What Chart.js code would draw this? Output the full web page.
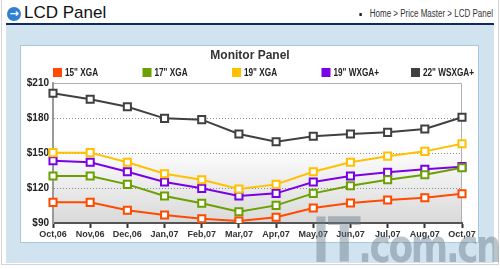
<!DOCTYPE html>
<html>
<head>
<meta charset="utf-8">
<script src="https://cdn.jsdelivr.net/npm/chart.js@4.4.0/dist/chart.umd.min.js"></script>
<style>
  body { margin: 0; background: #fff; font-family: "Liberation Sans", Arial, sans-serif; }
  #page { position: relative; width: 500px; height: 269px; overflow: hidden; }
  #frame { position: absolute; left: 1px; top: 0; width: 496px; height: 264px; border: 1px solid #d4d4d4; border-top: none; }
  #icon { position: absolute; left: 7px; top: 7px; width: 14px; height: 14px; border-radius: 50%; background: #2f7fd3; color: #fff; font: bold 11px/14px "DejaVu Sans", sans-serif; text-align: center; }
  #title { position: absolute; left: 24px; top: 3px; font-size: 17px; color: #111; }
  #crumb { position: absolute; right: 7px; top: 8px; font: 10px "Liberation Sans", sans-serif; color: #333; transform: scaleX(0.8); transform-origin: right center; white-space: nowrap; }
  #crumb b { display: inline-block; width: 3px; height: 3px; background: #222; margin-right: 10px; vertical-align: middle; }
  #rule { position: absolute; left: 6px; top: 23px; width: 488px; height: 2px; background: #0f2b5f; }
  #panel { position: absolute; left: 6px; top: 25px; width: 488px; height: 238px; background: #d1e3ee; }
  #box { position: absolute; left: 20px; top: 45px; width: 457px; height: 196px; border: 1px solid #a8c8df; background: #fff; }
  #box canvas { display: block; }
  #mark { position: absolute; left: 312px; top: 210px; font: bold 62px/62px "DejaVu Sans", sans-serif; color: rgba(105,122,140,0.45); letter-spacing: -3px; white-space: nowrap; transform: scaleX(0.78); transform-origin: left top; }
  #mark span { font-size: 46px; }
</style>
</head>
<body>
<div id="page">
  <div id="frame"></div>
  <div id="icon">&#8594;</div>
  <div id="title">LCD Panel</div>
  <div id="crumb"><b></b>Home &gt; Price Master &gt; LCD Panel</div>
  <div id="rule"></div>
  <div id="panel"></div>
  <div id="box"><canvas id="chart" width="457" height="196"></canvas></div>
  <div id="mark">IT<span>.com.cn</span></div>
</div>
<script>
var months = ["Oct,06", "Nov,06", "Dec,06", "Jan,07", "Feb,07", "Mar,07", "Apr,07", "May,07", "Jun,07", "Jul,07", "Aug,07", "Oct,07"];
var xga15 = [107.7, 107.7, 100.9, 96.9, 93.7, 91.7, 94.9, 102.9, 107.1, 109.7, 111.7, 115.1];
var xga17 = [130.3, 130.3, 123.1, 113.1, 106.9, 99.7, 105.1, 115.4, 122, 127.1, 131.4, 137.4];
var xga19 = [150.3, 150.3, 142, 132.2, 127.1, 119.1, 123.1, 133.9, 142, 147.3, 151.4, 158];
var wxga19 = [143.4, 142, 134, 125.1, 119.7, 113.1, 115.4, 125.1, 130.3, 133.4, 136, 138.3];
var wsxga22 = [201.2, 196, 189.7, 179.7, 178.6, 166.3, 159.7, 164.3, 166.3, 167.7, 170.6, 180.6];
var yTicks = [90, 120, 150, 180, 210];

function series(label, values, color) {
  return {
    label: label,
    data: values,
    borderColor: color,
    backgroundColor: color,
    borderWidth: 2,
    pointStyle: "rect",
    pointRadius: 5,
    pointBorderWidth: 2,
    pointBackgroundColor: "#fff",
    pointBorderColor: color,
    tension: 0
  };
}

// plot background, frame, title and column legend
var decor = {
  id: "decor",
  beforeDraw: function (chart) {
    var c = chart.ctx, a = chart.chartArea;
    var g = c.createLinearGradient(0, a.top, 0, a.bottom);
    g.addColorStop(0, "#ffffff");
    g.addColorStop(0.45, "#ffffff");
    g.addColorStop(1, "#d9d9d9");
    c.save();
    c.fillStyle = g;
    c.fillRect(a.left, a.top, a.right - a.left, a.bottom - a.top);
    c.strokeStyle = "#b0b0b0";
    c.lineWidth = 1;
    c.beginPath();
    c.moveTo(a.left, a.top + 0.5);
    c.lineTo(a.right - 0.5, a.top + 0.5);
    c.lineTo(a.right - 0.5, a.bottom);
    c.stroke();
    c.restore();
  },
  afterDraw: function (chart) {
    var c = chart.ctx, a = chart.chartArea;
    c.save();
    c.fillStyle = "#333";
    c.font = "bold 12px 'Liberation Sans', Arial, sans-serif";
    c.textAlign = "center";
    c.textBaseline = "middle";
    c.fillText("Monitor Panel", 229, 10);
    c.font = "bold 10px 'Liberation Sans', Arial, sans-serif";
    c.textAlign = "left";
    chart.data.datasets.forEach(function (ds, i) {
      var x = a.left + i * 89.5;
      c.fillStyle = ds.borderColor;
      c.fillRect(x, 22, 9, 9);
      c.fillStyle = "#222";
      c.save();
      c.translate(x + 12, 27);
      c.scale(0.82, 1);
      c.fillText(ds.label, 0, 0);
      c.restore();
    });
    c.restore();
  }
};

new Chart(document.getElementById("chart"), {
  type: "line",
  data: {
    labels: months,
    datasets: [
      series('15" XGA', xga15, "#ff4a00"),
      series('17" XGA', xga17, "#6ba000"),
      series('19" XGA', xga19, "#ffc000"),
      series('19" WXGA+', wxga19, "#7b00e6"),
      series('22" WSXGA+', wsxga22, "#404040")
    ]
  },
  options: {
    responsive: false,
    animation: false,
    layout: { padding: { top: 37, right: 16, left: 0, bottom: 0 } },
    plugins: {
      legend: { display: false },
      title: { display: false },
      tooltip: { enabled: false }
    },
    scales: {
      x: {
        offset: false,
        afterFit: function (s) { s.height = 19; },
        grid: { drawOnChartArea: false, drawTicks: true, tickLength: 5, tickColor: "#333", tickWidth: 2 },
        border: { color: "#555", width: 2 },
        ticks: { color: "#333", padding: 1, maxRotation: 0, autoSkip: false, font: { family: "'Liberation Sans', Arial, sans-serif", size: 9, weight: "bold" } }
      },
      y: {
        min: 90,
        max: 210,
        afterFit: function (s) { s.width = 32; },
        afterBuildTicks: function (s) { s.ticks = yTicks.map(function (v) { return { value: v }; }); },
        grid: {
          drawTicks: false,
          color: function (ctx) { var v = ctx.tick && ctx.tick.value; return (v === 90 || v === 210) ? "rgba(0,0,0,0)" : "#8a8a8a"; }
        },
        border: { color: "#9a9a9a", width: 2, dash: [1, 2] },
        ticks: {
          color: "#222",
          padding: 4,
          font: { family: "'Liberation Sans', Arial, sans-serif", size: 10, weight: "bold" },
          callback: function (v) { return "$" + v; }
        }
      }
    }
  },
  plugins: [decor]
});
</script>
</body>
</html>
